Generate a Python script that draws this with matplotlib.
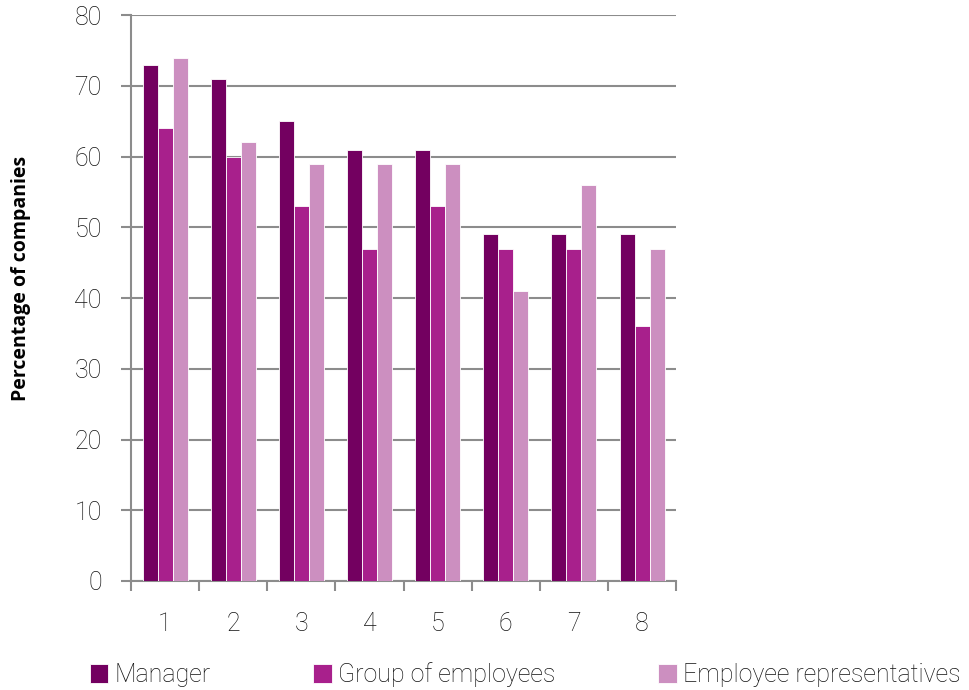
import numpy as np
import matplotlib
matplotlib.use('Agg')
import matplotlib.pyplot as plt

categories = ['1', '2', '3', '4', '5', '6', '7', '8']
manager = [73, 71, 65, 61, 61, 49, 49, 49]
group_of_employees = [64, 60, 53, 47, 53, 47, 47, 36]
employee_reps = [74, 62, 59, 59, 59, 41, 56, 47]
series_names = ['Manager', 'Group of employees', 'Employee representatives']
colors = ['#730060', '#A8208C', '#CC8FC0']

plt.rcParams['font.family'] = ['Roboto', 'DejaVu Sans']

fig = plt.figure(figsize=(9.7, 6.9), dpi=100)
ax = fig.add_axes([0.135, 0.158, 0.562, 0.820])

x = np.arange(len(categories))
width = 0.22
for i, (vals, name, c) in enumerate(zip([manager, group_of_employees, employee_reps], series_names, colors)):
    ax.bar(x + (i - 1) * width, vals, width, color=c, label=name,
           edgecolor='white', linewidth=0.6, zorder=3)

ax.set_xlim(-0.5, len(categories) - 0.5)
ax.set_ylim(0, 80)
ax.set_yticks(range(0, 81, 10))
ax.yaxis.grid(True, color='#8c8c8c', linewidth=1.5, zorder=0)

ax.set_xticks(x)
ax.set_xticklabels(categories)
ax.set_xticks(np.arange(-0.5, len(categories)), minor=True)
ax.tick_params(axis='x', which='major', length=0, pad=22, labelsize=18)
ax.tick_params(axis='x', which='minor', length=7, width=1.5, color='#8c8c8c', direction='out')
ax.tick_params(axis='y', length=7, width=1.5, color='#8c8c8c', pad=14, labelsize=18)
for lbl in ax.get_xticklabels() + ax.get_yticklabels():
    lbl.set_fontweight('light')
    lbl.set_color('#111111')

for side in ['top', 'right']:
    ax.spines[side].set_visible(False)
for side in ['left', 'bottom']:
    ax.spines[side].set_color('#8c8c8c')
    ax.spines[side].set_linewidth(1.5)

ax.set_ylabel('Percentage of companies', fontsize=14, fontweight='bold',
              family=['Open Sans', 'DejaVu Sans'])
ax.yaxis.set_label_coords(-0.183, 0.535)

handles, labels = ax.get_legend_handles_labels()
leg = fig.legend(handles, labels, loc='center left', bbox_to_anchor=(0.082, 0.022),
                 ncol=3, frameon=False, fontsize=18, handlelength=0.75, handleheight=0.75,
                 handletextpad=0.25, columnspacing=4.1, borderaxespad=0)
for t in leg.get_texts():
    t.set_fontweight('light')
    t.set_color('#111111')

fig.savefig('out.png', dpi=100)
